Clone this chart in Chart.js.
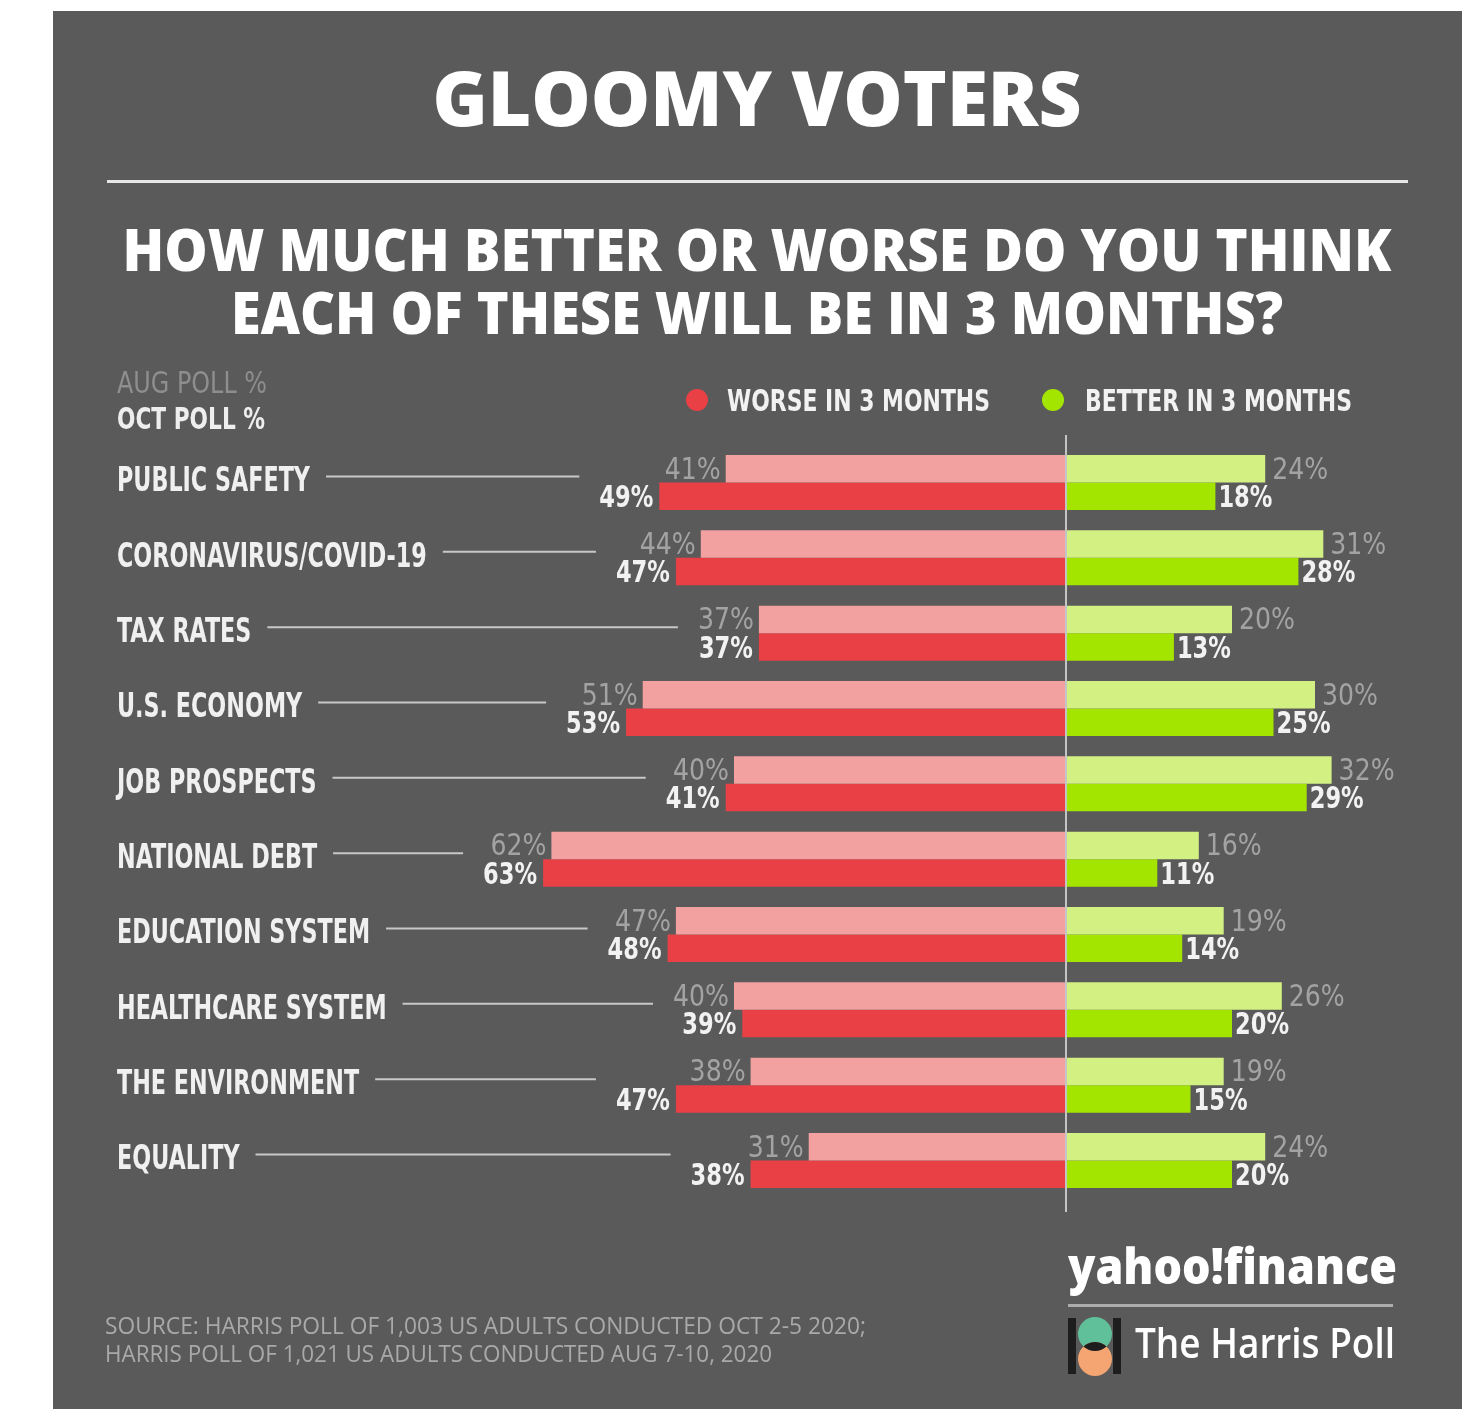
<!DOCTYPE html>
<html>
<head>
<meta charset="utf-8">
<script src="https://cdn.jsdelivr.net/npm/chart.js@4.4.1/dist/chart.umd.min.js"></script>
<style>
  html, body { margin: 0; padding: 0; background: #ffffff; }
  #wrap { width: 1470px; height: 1409px; position: relative; }
</style>
</head>
<body>
<div id="wrap"><canvas id="c" width="1470" height="1409"></canvas></div>
<script>
// ---------- DATA ----------
const categories = [
  "PUBLIC SAFETY", "CORONAVIRUS/COVID-19", "TAX RATES", "U.S. ECONOMY", "JOB PROSPECTS",
  "NATIONAL DEBT", "EDUCATION SYSTEM", "HEALTHCARE SYSTEM", "THE ENVIRONMENT", "EQUALITY"
];
const augWorse  = [41, 44, 37, 51, 40, 62, 47, 40, 38, 31];
const octWorse  = [49, 47, 37, 53, 41, 63, 48, 39, 47, 38];
const augBetter = [24, 31, 20, 30, 32, 16, 19, 26, 19, 24];
const octBetter = [18, 28, 13, 25, 29, 11, 14, 20, 15, 20];
const seriesNames = ["WORSE IN 3 MONTHS", "BETTER IN 3 MONTHS"];
const pollNames = ["AUG POLL %", "OCT POLL %"];
const titleText = "GLOOMY VOTERS";
const subtitleLines = ["HOW MUCH BETTER OR WORSE DO YOU THINK", "EACH OF THESE WILL BE IN 3 MONTHS?"];
const sourceLines = [
  "SOURCE: HARRIS POLL OF 1,003 US ADULTS CONDUCTED OCT 2-5 2020;",
  "HARRIS POLL OF 1,021 US ADULTS CONDUCTED AUG 7-10, 2020"
];

// ---------- STYLE ----------
const BG = "#5a5a5a";
const C_AUG_WORSE = "#f2a0a0";
const C_OCT_WORSE = "#e94046";
const C_AUG_BETTER = "#d3f183";
const C_OCT_BETTER = "#a4e500";
const COND = '"Liberation Sans Narrow", "DejaVu Sans Condensed", "Roboto Condensed", "Arial Narrow", sans-serif';
const HEAD = '"Open Sans", "Lato", "Noto Sans", sans-serif';

// draw text; y is the vertical centre of capitals. opts: w (exact width) or sx (horizontal scale)
function txt(ctx, s, x, y, size, font, color, align, opts) {
  opts = opts || {};
  ctx.save();
  ctx.font = font.replace("SIZE", size + "px");
  ctx.fillStyle = color;
  ctx.textBaseline = "alphabetic";
  ctx.textAlign = "left";
  const w = ctx.measureText(s).width;
  const sx = opts.w ? opts.w / w : (opts.sx || 1);
  const W = w * sx;
  let x0 = x;
  if (align === "center") x0 = x - W / 2;
  else if (align === "right") x0 = x - W;
  ctx.translate(x0, y + size * (opts.cap || 0.36));
  ctx.scale(sx, 1);
  ctx.fillText(s, 0, 0);
  ctx.restore();
  return { left: x0, right: x0 + W };
}
function factor(ctx, sample, size, font, target) {
  ctx.save();
  ctx.font = font.replace("SIZE", size + "px");
  const w = ctx.measureText(sample).width;
  ctx.restore();
  return target / w;
}

const decor = {
  id: "decor",
  beforeDraw(chart) {
    const ctx = chart.ctx;
    ctx.save();
    ctx.fillStyle = "#ffffff";
    ctx.fillRect(0, 0, chart.width, chart.height);
    ctx.fillStyle = BG;
    ctx.fillRect(53, 11, 1409, 1398);
    ctx.restore();

    // title
    txt(ctx, titleText, 757, 99, 76, "800 SIZE " + HEAD, "#ffffff", "center", { w: 649 });
    ctx.save();
    ctx.fillStyle = "#e6e6e6";
    ctx.fillRect(107, 180, 1301, 3);
    ctx.restore();
    txt(ctx, subtitleLines[0], 757, 250, 58, "800 SIZE " + HEAD, "#ffffff", "center", { w: 1269 });
    txt(ctx, subtitleLines[1], 757, 313, 58, "800 SIZE " + HEAD, "#ffffff", "center", { w: 1052 });

    // poll key
    txt(ctx, pollNames[0], 117, 382, 31, "SIZE " + COND, "#8e8e8e", "left", { w: 150 });
    txt(ctx, pollNames[1], 117, 418, 31, "bold SIZE " + COND, "#eeeeee", "left", { w: 148 });

    // legend
    ctx.save();
    ctx.fillStyle = C_OCT_WORSE;
    ctx.beginPath(); ctx.arc(697, 400, 11, 0, Math.PI * 2); ctx.fill();
    ctx.fillStyle = C_OCT_BETTER;
    ctx.beginPath(); ctx.arc(1053, 400, 11, 0, Math.PI * 2); ctx.fill();
    ctx.restore();
    txt(ctx, seriesNames[0], 727, 400, 30, "bold SIZE " + COND, "#f2f2f2", "left", { w: 263 });
    txt(ctx, seriesNames[1], 1085, 400, 30, "bold SIZE " + COND, "#f2f2f2", "left", { w: 267 });

    // source
    txt(ctx, sourceLines[0], 105, 1326, 23, "SIZE " + HEAD, "#a9a9a9", "left", { w: 761 });
    txt(ctx, sourceLines[1], 105, 1354, 23, "SIZE " + HEAD, "#a9a9a9", "left", { w: 667 });

    // logos
    txt(ctx, "yahoo!finance", 1068, 1266, 50, "900 SIZE " + HEAD, "#ffffff", "left", { w: 329 });
    ctx.save();
    ctx.fillStyle = "#acacac";
    ctx.fillRect(1068, 1304, 325, 3);
    // harris icon
    ctx.fillStyle = "#1e1e1e";
    ctx.fillRect(1068, 1318, 8, 56);
    ctx.fillRect(1113, 1318, 8, 56);
    ctx.fillStyle = "#5fc09a";
    ctx.beginPath(); ctx.arc(1095, 1334, 17, 0, Math.PI * 2); ctx.fill();
    ctx.fillStyle = "#f4a571";
    ctx.beginPath(); ctx.arc(1095, 1359, 17, 0, Math.PI * 2); ctx.fill();
    ctx.save();
    ctx.beginPath(); ctx.arc(1095, 1334, 17, 0, Math.PI * 2); ctx.clip();
    ctx.fillStyle = "#1e1e1e";
    ctx.beginPath(); ctx.arc(1095, 1359, 17, 0, Math.PI * 2); ctx.fill();
    ctx.restore();
    ctx.restore();
    txt(ctx, "The Harris Poll", 1135, 1343, 42, "600 SIZE " + HEAD, "#ffffff", "left", { w: 260 });
  },
  afterDatasetsDraw(chart) {
    const ctx = chart.ctx;
    const xs = chart.scales.x, ys = chart.scales.y;
    const zero = xs.getPixelForValue(0);
    // centre line
    ctx.save();
    ctx.strokeStyle = "#c4c4c4";
    ctx.lineWidth = 2;
    ctx.beginPath(); ctx.moveTo(zero, 435); ctx.lineTo(zero, 1212); ctx.stroke();
    ctx.restore();

    const fBold = "bold SIZE " + COND, fReg = "SIZE " + COND;
    const sBold = factor(ctx, "49%", 30, fBold, 54);
    const sReg = factor(ctx, "41%", 30, fReg, 56);
    const sCat = factor(ctx, "PUBLIC SAFETY", 33, fBold, 193);

    const m0 = chart.getDatasetMeta(0), m1 = chart.getDatasetMeta(1);
    const m2 = chart.getDatasetMeta(2), m3 = chart.getDatasetMeta(3);
    categories.forEach((cat, i) => {
      const a = m0.data[i], b = m1.data[i], c = m2.data[i], d = m3.data[i];
      const r1 = txt(ctx, augWorse[i] + "%", a.x - 5, a.y - 1, 30, fReg, "#a3a3a3", "right", { sx: sReg });
      const r2 = txt(ctx, octWorse[i] + "%", b.x - 6, b.y, 30, fBold, "#f2f2f2", "right", { sx: sBold });
      txt(ctx, augBetter[i] + "%", c.x + 7, c.y - 1, 30, fReg, "#a3a3a3", "left", { sx: sReg });
      txt(ctx, octBetter[i] + "%", d.x + 3, d.y, 30, fBold, "#f2f2f2", "left", { sx: sBold });

      const cy = ys.getPixelForValue(i);
      const lab = txt(ctx, cat, 117, cy - 3, 33, fBold, "#f0f0f0", "left", { sx: sCat });
      const end = Math.min(r1.left, r2.left) - 20;
      ctx.save();
      ctx.strokeStyle = "#c8c8c8";
      ctx.lineWidth = 2;
      ctx.beginPath(); ctx.moveTo(lab.right + 16, cy - 6); ctx.lineTo(end, cy - 6); ctx.stroke();
      ctx.restore();
    });
  }
};

const chart = new Chart(document.getElementById("c"), {
  type: "bar",
  data: {
    labels: categories,
    datasets: [
      { label: "Aug worse", data: augWorse.map(v => -v), backgroundColor: C_AUG_WORSE, stack: "aug" },
      { label: "Oct worse", data: octWorse.map(v => -v), backgroundColor: C_OCT_WORSE, stack: "oct" },
      { label: "Aug better", data: augBetter, backgroundColor: C_AUG_BETTER, stack: "aug" },
      { label: "Oct better", data: octBetter, backgroundColor: C_OCT_BETTER, stack: "oct" }
    ]
  },
  options: {
    indexAxis: "y",
    responsive: false,
    animation: false,
    devicePixelRatio: 1,
    categoryPercentage: 0.73,
    barPercentage: 1.0,
    borderWidth: 0,
    layout: { padding: { left: 485, right: 30.5, top: 444.8, bottom: 210.8 } },
    scales: {
      x: { display: false, stacked: true, min: -70, max: 45 },
      y: { display: false }
    },
    plugins: { legend: { display: false }, tooltip: { enabled: false } }
  },
  plugins: [decor]
});
</script>
</body>
</html>
